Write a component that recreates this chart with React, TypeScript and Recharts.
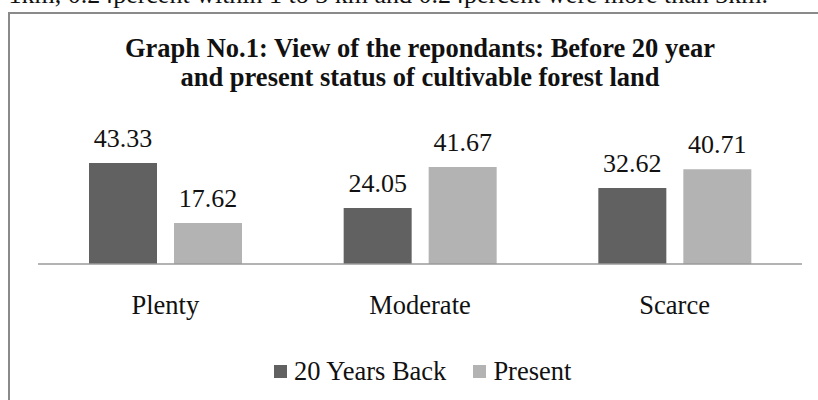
import React from "react";
import { BarChart, Bar, XAxis, YAxis, Legend, LabelList } from "recharts";

const categories = ["Plenty", "Moderate", "Scarce"];
const yearsBack = [43.33, 24.05, 32.62];
const present = [17.62, 41.67, 40.71];

const titleLines = [
  "Graph No.1: View of the repondants: Before 20 year",
  "and present status of cultivable forest land",
];
const topLine =
  "r 1km, 0.24percent within 1 to 3 km and 0.24percent were more than 3km.";

const DARK = "#616161";
const LIGHT = "#b3b3b3";
const FONT = "'Liberation Serif', 'Times New Roman', serif";

const data = categories.map((name, i) => ({
  name,
  back: yearsBack[i],
  present: present[i],
}));

const LegendContent = () => (
  <div
    style={{
      height: 30,
      lineHeight: "30px",
      fontSize: 26.5,
      fontFamily: FONT,
      color: "#111",
      whiteSpace: "nowrap",
    }}
  >
    <span
      style={{
        display: "inline-block",
        width: 13,
        height: 13,
        background: DARK,
        marginRight: 7,
        verticalAlign: 2,
      }}
    />
    20 Years Back
    <span
      style={{
        display: "inline-block",
        width: 13,
        height: 13,
        background: LIGHT,
        marginLeft: 27,
        marginRight: 7,
        verticalAlign: 2,
      }}
    />
    Present
  </div>
);

export default function App() {
  return (
    <div
      style={{
        position: "absolute",
        left: 0,
        top: 0,
        width: 818,
        height: 400,
        overflow: "hidden",
        background: "#fff",
      }}
    >
      {/* frame of the figure, runs past the page edge */}
      <div
        style={{
          position: "absolute",
          left: 8,
          top: 12,
          width: 900,
          height: 500,
          borderLeft: "2px solid #8a8a8a",
          borderTop: "2px solid #8a8a8a",
        }}
      />
      <svg
        width={818}
        height={400}
        style={{ position: "absolute", left: 0, top: 0 }}
      >
        <text
          x={768}
          y={3}
          textAnchor="end"
          fontFamily={FONT}
          fontSize={26}
          fill="#111"
        >
          {topLine}
        </text>
        {titleLines.map((t, i) => (
          <text
            key={i}
            x={420}
            y={57 + i * 28.5}
            textAnchor="middle"
            fontFamily={FONT}
            fontSize={26.5}
            fontWeight="bold"
            fill="#111"
          >
            {t}
          </text>
        ))}
      </svg>
      <div style={{ position: "absolute", left: 0, top: 0 }}>
        <BarChart
          width={818}
          height={400}
          data={data}
          margin={{ top: 147.5, right: 16, left: 38, bottom: 13 }}
          barSize={68}
          barGap={17}
        >
          <XAxis
            dataKey="name"
            height={93}
            tickLine={false}
            tickSize={0}
            tickMargin={31.5}
            axisLine={{ stroke: "#9a9a9a", strokeWidth: 1.5 }}
            tick={{ fontSize: 26.5, fill: "#111", fontFamily: FONT }}
          />
          <YAxis hide domain={[0, 50]} />
          <Legend
            content={<LegendContent />}
            wrapperStyle={{ left: 274, top: 356, width: "auto" }}
          />
          <Bar dataKey="back" name="20 Years Back" fill={DARK} isAnimationActive={false}>
            <LabelList
              dataKey="back"
              position="top"
              offset={16}
              style={{ fontSize: 26, fill: "#111", fontFamily: FONT }}
            />
          </Bar>
          <Bar dataKey="present" name="Present" fill={LIGHT} isAnimationActive={false}>
            <LabelList
              dataKey="present"
              position="top"
              offset={16}
              style={{ fontSize: 26, fill: "#111", fontFamily: FONT }}
            />
          </Bar>
        </BarChart>
      </div>
    </div>
  );
}
